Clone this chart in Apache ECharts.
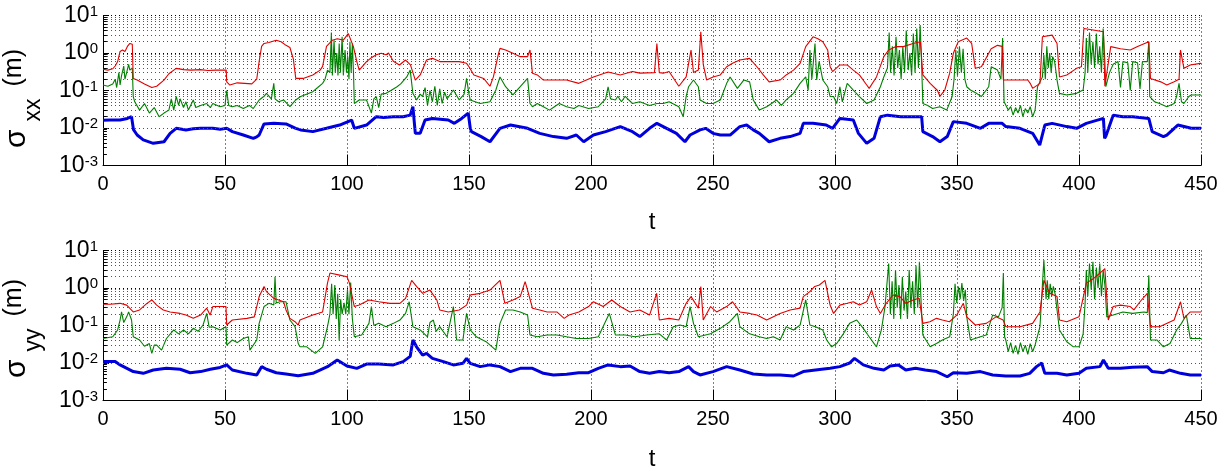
<!DOCTYPE html>
<html><head><meta charset="utf-8">
<script src="https://cdn.jsdelivr.net/npm/echarts@6/dist/echarts.min.js"></script>
<style>html,body{margin:0;padding:0;background:#fff}#c{width:1223px;height:470px}</style>
</head><body><div id="c"></div>
<script>
// ---------- data: [t, value] ----------
const xTickValues = [0, 50, 100, 150, 200, 250, 300, 350, 400, 450];
const yDecades = [0.001, 0.01, 0.1, 1, 10];

const topRed = [[0,0.37],[2,0.35],[4,0.38],[5,0.45],[6,0.59],[7,1.1],[8,1.2],[9,1.1],[10,1.5],[11,1.8],[12,1.7],[12.4,0.21],[14,0.19],[17,0.15],[20,0.12],[22,0.13],[25,0.19],[27,0.28],[30,0.39],[33,0.36],[36,0.35],[40,0.36],[43,0.34],[46,0.35],[50.5,0.35],[50.7,0.17],[52,0.14],[55,0.16],[58,0.155],[61,0.15],[63,0.2],[64,0.6],[65,1.5],[66,1.8],[68,1.9],[70,2.1],[71,2.2],[73,2.0],[75,1.6],[76.6,1.4],[78,0.7],[79,0.21],[82,0.21],[86,0.26],[89,0.35],[90,0.44],[91.6,1.5],[94,2.2],[96,2.4],[98.5,2.2],[100.5,3.3],[102.6,1.5],[104,0.6],[105,0.35],[108,0.59],[110,0.75],[112,0.9],[114,0.98],[116,0.9],[117,1.0],[119,0.6],[121.5,0.48],[124,0.65],[126,0.48],[128,0.19],[130,0.26],[132.6,0.65],[135,0.72],[138,0.59],[141.5,0.59],[146,0.59],[149,0.53],[150,0.43],[152,0.26],[156,0.21],[158.6,0.13],[160,0.23],[162,0.9],[162.7,1.33],[165,1.2],[168,0.98],[171,0.8],[174,0.8],[175,1.2],[176,0.29],[178,0.26],[180.5,0.19],[185,0.19],[190,0.19],[195,0.155],[201,0.23],[207,0.31],[212,0.26],[217,0.32],[220,0.29],[226,0.3],[227,1.8],[228,0.3],[229.6,0.29],[232,0.32],[236,0.13],[239,0.23],[241,1.2],[242,0.3],[244,0.35],[245,3.7],[246,0.5],[247.4,0.19],[250,0.23],[253,0.26],[255.6,0.43],[258,0.53],[261,0.65],[265,0.72],[268,0.43],[270.6,0.26],[273,0.17],[277.5,0.19],[280,0.26],[283,0.35],[285.7,0.53],[288,1.48],[291,2.7],[293,2.4],[295,2.0],[297,1.2],[298,0.43],[299,0.32],[302,0.48],[305,0.48],[307.5,0.35],[310,0.26],[313,0.14],[314,0.114],[317,0.23],[320,0.8],[322,1.2],[325,1.48],[328,1.48],[332,1.8],[335,2.0],[336,0.26],[339,0.155],[342,0.1],[343,0.07],[345,0.103],[347,0.29],[348.5,0.98],[350.5,2.0],[354,2.5],[356,1.8],[357.5,0.39],[360,0.43],[364,1.3],[366.6,1.6],[368.5,1.5],[369,0.19],[373.5,0.19],[379,0.19],[380,0.155],[381,0.114],[384,0.155],[385,2.7],[389,3.0],[391,1.8],[392,0.23],[395,0.26],[399,0.39],[401,0.43],[402,4.5],[405.8,4.1],[410,3.7],[410.6,0.13],[413,1.48],[417,1.3],[421,1.2],[424,1.48],[428.6,2.0],[429.3,0.21],[433.5,0.17],[436,0.14],[439,0.17],[441,0.2],[441.6,1.2],[443,0.39],[445.6,0.48],[449.7,0.53],[450,0.53]];

const topGreen = [[0,0.14],[2,0.13],[4,0.15],[5,0.2],[5.6,0.12],[6.5,0.3],[7,0.14],[7.6,0.25],[8.5,0.45],[9,0.2],[9.7,0.3],[10.5,0.5],[11,0.35],[12,0.4],[12.4,0.069],[13,0.05],[15,0.03],[17,0.045],[19,0.025],[21,0.035],[23,0.02],[25,0.025],[27,0.03],[28,0.06],[29,0.03],[30,0.07],[31,0.04],[31.6,0.06],[33,0.035],[34,0.05],[35,0.03],[37,0.056],[38,0.035],[40,0.04],[42.5,0.045],[44,0.035],[45,0.045],[48,0.037],[50,0.04],[50.7,0.1],[51.5,0.04],[53,0.037],[55,0.04],[57.5,0.033],[60,0.04],[61.6,0.033],[64,0.056],[66,0.07],[67,0.084],[69,0.06],[70,0.155],[70.5,0.06],[72,0.05],[74,0.056],[76.6,0.037],[79,0.056],[81,0.069],[86,0.093],[88,0.12],[90,0.155],[91,0.2],[92,0.35],[93,0.3],[93.6,3.5],[94,0.25],[94.7,2.2],[95.2,0.3],[95.8,1.0],[96.3,0.25],[96.8,1.8],[97.3,0.3],[98,2.7],[98.5,0.25],[99.2,1.2],[99.8,0.3],[100.3,0.8],[100.8,0.2],[101.2,2.0],[101.7,0.3],[102.2,1.8],[102.7,0.25],[103,0.045],[105,0.056],[108,0.056],[110,0.025],[111,0.06],[112,0.069],[113,0.035],[114,0.08],[116,0.084],[118,0.1],[120.5,0.126],[122,0.15],[124.5,0.23],[125.9,0.35],[127,0.084],[128.5,0.056],[130,0.08],[131,0.069],[132,0.12],[133,0.04],[134,0.1],[135,0.05],[136,0.13],[137,0.04],[138,0.11],[139,0.045],[140,0.09],[141,0.06],[143.6,0.103],[146,0.056],[148,0.08],[149,0.21],[150,0.08],[150.5,0.056],[154.6,0.045],[158.6,0.05],[161,0.103],[162.7,0.23],[165,0.126],[168,0.076],[171,0.126],[174,0.21],[175,0.045],[176,0.037],[178,0.045],[180.5,0.037],[183,0.03],[185,0.037],[187,0.045],[190,0.037],[193,0.033],[195,0.04],[199,0.033],[203,0.037],[206,0.06],[207,0.126],[208,0.06],[210,0.056],[211,0.07],[212.5,0.05],[214,0.07],[217,0.045],[220,0.05],[224,0.04],[227,0.045],[229.6,0.045],[232,0.05],[236,0.037],[237.8,0.02],[239,0.07],[240,0.126],[242,0.19],[244,0.126],[244.7,0.056],[247.4,0.045],[250,0.045],[253,0.056],[255.6,0.155],[257,0.23],[260,0.114],[262.6,0.19],[265,0.17],[266.5,0.056],[269,0.03],[272,0.037],[274,0.045],[276,0.056],[278,0.04],[280,0.056],[283,0.084],[285.7,0.155],[288,0.23],[289,0.1],[289.7,1.2],[290.5,0.2],[291.8,1.8],[292.5,0.19],[293.5,0.6],[295,0.19],[297,0.126],[298,0.069],[299.4,0.069],[300.7,0.045],[302,0.126],[303,0.05],[305,0.155],[307.5,0.103],[310,0.069],[313,0.045],[316,0.056],[318.6,0.126],[320,0.23],[321.5,0.4],[322.2,3.5],[322.8,0.3],[323.5,1.5],[324.2,0.25],[325,2.7],[325.7,0.4],[326.4,1.2],[327.1,0.2],[327.8,1.5],[328.5,0.3],[329.2,4.0],[330,0.35],[330.7,1.0],[331.4,0.25],[332.1,3.3],[332.8,0.3],[333.5,4.5],[334.2,0.4],[334.9,5.6],[335.5,0.5],[336,0.045],[338,0.04],[340,0.033],[343,0.037],[345.8,0.03],[348,0.069],[348.8,0.2],[349.5,1.2],[350.2,0.25],[351,1.5],[351.8,0.3],[352.5,1.3],[353.2,0.2],[354,0.126],[355.5,0.103],[358,0.084],[360,0.069],[363,0.126],[364,0.43],[366.6,0.35],[368,0.2],[368.7,2.5],[369.3,0.05],[370,0.045],[371,0.03],[372,0.037],[373,0.022],[374,0.035],[375,0.025],[376,0.04],[377,0.02],[378,0.033],[379,0.025],[380,0.037],[381,0.02],[382,0.03],[383,0.126],[385,0.23],[385.6,0.9],[386.2,0.2],[386.8,1.5],[387.4,0.4],[388,1.0],[388.6,0.3],[389.2,0.8],[390,0.6],[391,0.19],[392,0.084],[395,0.076],[399,0.084],[401.7,0.103],[402.5,0.3],[403,2.5],[403.6,0.3],[404.3,3.5],[405,0.5],[405.7,2.0],[406.4,0.4],[407.1,3.3],[407.8,0.5],[408.5,1.5],[409.2,0.3],[409.9,4.5],[410.6,0.6],[411,0.126],[412.5,0.3],[414,0.5],[416,0.59],[417,0.12],[418,0.59],[420,0.55],[421,0.1],[422,0.59],[424,0.55],[425,0.11],[426,0.59],[428,0.59],[428.6,2.0],[429,0.069],[431,0.05],[433,0.045],[436,0.037],[439,0.045],[440,0.07],[441,0.155],[442,0.05],[443,0.045],[445,0.069],[446,0.076],[450,0.076]];

const topBlue = [[0,0.016],[3,0.0163],[7,0.0163],[10,0.018],[11.7,0.02],[12.2,0.019],[12.5,0.009],[14,0.0065],[16.5,0.0048],[20.6,0.0039],[25,0.0043],[27.5,0.0072],[30,0.0098],[34,0.0089],[37,0.0095],[40,0.0098],[45,0.0098],[48,0.0092],[50.7,0.0098],[53,0.008],[57.5,0.0065],[61.6,0.0053],[63,0.0058],[64,0.0065],[66,0.0128],[70,0.0133],[75,0.0128],[79,0.0098],[81,0.0089],[86,0.008],[91.6,0.0098],[97,0.012],[101.9,0.0163],[103,0.0098],[108,0.012],[112,0.02],[115,0.019],[119,0.02],[123,0.02],[125.9,0.022],[127,0.037],[128,0.0072],[130,0.0072],[132,0.0163],[135,0.018],[141.5,0.0163],[144,0.0133],[147,0.018],[149.7,0.025],[150.5,0.01],[151,0.008],[155,0.0059],[158.6,0.0043],[162.7,0.0098],[167,0.012],[174,0.0098],[179,0.0072],[184.6,0.0059],[190,0.0053],[194,0.0065],[197,0.0043],[201,0.0065],[206,0.008],[212,0.0109],[217,0.008],[220,0.0059],[224,0.0098],[227,0.0133],[231,0.0098],[235,0.0072],[238.5,0.0043],[240.6,0.0065],[244.7,0.0089],[247,0.0098],[250,0.0072],[253,0.0065],[257,0.0065],[261,0.0109],[263.8,0.012],[266.5,0.0089],[269,0.0072],[273,0.0043],[277.5,0.0053],[281.6,0.0059],[285.7,0.0072],[287,0.0133],[291,0.0133],[296.4,0.012],[299,0.0098],[302,0.018],[305,0.017],[307.5,0.0163],[309.6,0.0072],[313,0.0039],[316,0.0053],[318.6,0.02],[321.5,0.022],[327,0.02],[332,0.02],[335.5,0.02],[336,0.008],[340,0.0059],[343,0.0043],[346,0.0059],[348.5,0.0148],[354,0.0133],[359.6,0.0098],[363,0.0133],[368.5,0.0133],[370,0.0109],[375.8,0.0098],[381,0.0072],[383.9,0.0035],[386,0.012],[389,0.0133],[395,0.0109],[399,0.0098],[403,0.0133],[410,0.018],[410.5,0.0053],[411,0.006],[414,0.022],[418,0.02],[422,0.02],[428.6,0.018],[430,0.008],[434.6,0.0059],[436,0.0065],[440.5,0.012],[446,0.0098],[450,0.0098]];

const botRed = [[0,0.37],[3,0.37],[7,0.39],[9.7,0.35],[12.4,0.23],[15,0.26],[18,0.39],[20,0.48],[22,0.35],[24.7,0.26],[27.5,0.23],[31.6,0.21],[34,0.19],[37,0.155],[40,0.19],[42.5,0.29],[43.9,0.19],[45,0.32],[48,0.32],[50.4,0.32],[50.7,0.103],[53,0.14],[59,0.155],[62,0.17],[64,0.59],[66,1.1],[67,0.8],[70,0.53],[74,0.43],[75,0.26],[76.6,0.155],[78.7,0.126],[80,0.103],[80.7,0.14],[86,0.19],[90,0.23],[92,1.35],[93,2.5],[97,2.2],[100,2.0],[101,1.35],[103,0.32],[105,0.35],[109,0.48],[113,0.43],[117.6,0.39],[121.7,0.39],[124,0.53],[126.5,1.6],[128.5,1.1],[131,0.72],[134,0.88],[136.8,0.48],[138,0.26],[141.5,0.23],[146,0.26],[149,0.35],[150.5,0.65],[154.6,0.72],[158.6,0.88],[162.7,1.6],[164.7,0.39],[168,0.48],[171,0.59],[173,1.48],[174,0.88],[176,0.29],[179,0.26],[182,0.23],[186,0.23],[189,0.155],[191,0.19],[195,0.23],[199,0.32],[201,0.43],[205,0.32],[208.5,0.48],[212,0.32],[216,0.23],[220,0.26],[224,0.19],[226.9,0.72],[228,0.14],[232,0.155],[236,0.14],[239,0.39],[241,0.59],[244,0.29],[245,1.1],[246,0.14],[249,0.32],[251.5,0.23],[255.6,0.32],[258,0.43],[261,0.23],[265,0.21],[268,0.19],[272,0.14],[277.5,0.21],[281.6,0.26],[285.7,0.29],[287,0.59],[289.7,0.8],[291.7,1.1],[293.6,1.2],[295.9,1.6],[298,0.35],[299.4,0.21],[302,0.35],[305,0.39],[307.5,0.43],[310,0.35],[313,0.43],[315,0.88],[317,0.32],[318.6,0.21],[321,0.39],[323.8,0.65],[326.6,0.59],[329,0.39],[332,0.48],[334.5,0.53],[336,0.114],[338.9,0.126],[341.6,0.155],[344,0.14],[346.9,0.126],[349.9,0.19],[352.6,0.39],[354,0.17],[357.5,0.103],[362,0.114],[366,0.17],[368.9,0.14],[370,0.093],[375.8,0.093],[381,0.114],[384,0.23],[385.6,1.6],[388,0.72],[391,0.59],[392,0.14],[395,0.126],[400,0.17],[403,1.35],[406,1.8],[408.6,2.5],[410.6,3.3],[412,0.14],[414,0.32],[417,0.35],[421,0.32],[422.5,0.26],[425,0.43],[428,0.72],[429.3,0.093],[433,0.093],[439,0.14],[441.6,0.43],[443,0.155],[445.6,0.23],[450,0.23]];

const botGreen = [[0,0.045],[4,0.05],[6,0.076],[7,0.14],[7.6,0.23],[8.5,0.12],[9.7,0.17],[10.5,0.23],[11.7,0.14],[12.4,0.05],[15,0.041],[17,0.028],[19,0.033],[20,0.018],[21,0.03],[22,0.03],[24,0.022],[26,0.045],[29,0.076],[31,0.06],[33,0.076],[35,0.06],[37,0.084],[39,0.07],[41,0.103],[42.5,0.21],[43.5,0.09],[45,0.093],[48,0.076],[50.4,0.093],[50.7,0.03],[53,0.041],[55,0.035],[57.5,0.045],[59.6,0.05],[60.2,0.022],[63,0.041],[64,0.114],[66,0.32],[68,0.39],[70,0.35],[70.5,2.0],[71,0.4],[72.5,0.43],[75,0.43],[76.6,0.14],[78.7,0.093],[80,0.033],[80.7,0.027],[83.5,0.027],[87,0.018],[90,0.027],[92,0.093],[93,0.2],[93.7,1.3],[94.3,0.2],[95,1.2],[95.6,0.15],[96.2,0.7],[96.8,0.04],[97.4,0.5],[98,0.2],[98.8,0.4],[99.5,0.2],[100.2,0.9],[100.8,0.2],[101.5,1.4],[102.2,0.15],[103,0.05],[106,0.056],[109,0.114],[110,0.32],[111,0.1],[113,0.114],[116,0.093],[119,0.114],[121.7,0.14],[124,0.21],[125.5,0.43],[127,0.093],[130,0.076],[133,0.05],[134,0.12],[135.4,0.14],[136.5,0.07],[138,0.093],[141,0.05],[143.6,0.32],[144.9,0.041],[147.5,0.041],[149,0.21],[150.5,0.076],[153,0.05],[157,0.037],[161,0.022],[162.7,0.114],[165,0.26],[168,0.26],[171,0.23],[174,0.19],[175,0.056],[178,0.05],[182,0.056],[186,0.056],[190,0.05],[194,0.045],[199,0.045],[203,0.05],[207.5,0.21],[210,0.056],[214,0.056],[218,0.05],[222.8,0.056],[228,0.06],[231,0.041],[233.7,0.093],[236.5,0.103],[239,0.093],[240.6,0.32],[242,0.114],[244,0.05],[244.7,0.05],[249,0.06],[253,0.084],[256.9,0.126],[260,0.21],[261,0.093],[265,0.06],[269,0.05],[272,0.045],[274.7,0.05],[277.5,0.041],[280,0.093],[283,0.076],[285.7,0.103],[288,0.48],[289.7,0.103],[292,0.093],[295,0.076],[296.6,0.041],[298.6,0.027],[300.7,0.033],[303.4,0.06],[306,0.114],[308.9,0.14],[311.6,0.084],[314,0.05],[317,0.027],[319,0.076],[320.5,0.32],[322,4.5],[322.7,0.2],[323.4,1.5],[324.1,0.15],[324.8,3.0],[325.5,0.3],[326.2,1.2],[326.9,0.15],[327.6,2.0],[328.3,0.25],[329,0.8],[329.7,0.15],[330.4,3.0],[331.1,0.3],[331.8,1.5],[332.5,0.2],[333.2,4.0],[333.9,0.3],[334.6,5.0],[335.3,0.4],[336,0.056],[339,0.027],[341.6,0.033],[344,0.041],[347,0.05],[348.5,0.2],[349.2,1.3],[349.9,0.4],[350.6,1.1],[351.3,0.5],[352,1.35],[352.7,0.45],[353.4,0.9],[354,0.17],[355.5,0.041],[359.6,0.05],[362,0.056],[364.6,0.19],[367,0.17],[368.5,0.3],[369,2.5],[369.5,0.05],[370,0.041],[371,0.02],[372,0.035],[373,0.018],[374,0.03],[375,0.017],[376,0.035],[377,0.02],[378,0.03],[379,0.017],[380,0.033],[381,0.02],[382,0.03],[384,0.093],[385.6,5.6],[386.5,0.5],[387,1.6],[387.6,0.5],[388.2,1.3],[388.8,0.6],[389.5,1.1],[390.2,0.7],[391,0.72],[392,0.076],[395,0.037],[397.7,0.027],[400,0.027],[401.7,0.06],[402.5,0.4],[403,3.0],[403.6,0.6],[404.3,4.5],[405,0.9],[405.7,5.0],[406.4,0.5],[407.1,3.5],[407.8,1.0],[408.5,4.5],[409.2,0.6],[409.9,3.0],[410.6,1.2],[411.4,0.17],[414,0.19],[418,0.23],[422,0.21],[426.6,0.23],[428,0.22],[428.6,2.2],[429.3,0.041],[432,0.041],[434.6,0.027],[437.3,0.033],[440,0.076],[442,0.114],[444,0.19],[445.6,0.045],[450,0.045]];

const botBlue = [[0,0.0109],[5,0.0109],[7,0.0089],[12.4,0.0059],[16.5,0.0053],[20.6,0.0065],[26,0.0072],[31.6,0.0068],[35.7,0.0055],[40,0.0059],[44,0.0068],[48,0.0076],[50.7,0.0089],[53,0.0065],[59,0.0053],[63,0.0048],[65,0.008],[67,0.0068],[71,0.0055],[75,0.0051],[80,0.0046],[86,0.0053],[92,0.008],[96,0.012],[100,0.0083],[104,0.0072],[108,0.0094],[113,0.0094],[119,0.0089],[123,0.0109],[125.9,0.015],[127,0.041],[128.5,0.027],[131,0.0163],[132.6,0.018],[135,0.0133],[139.5,0.0109],[143.6,0.0089],[147.5,0.0098],[149,0.0133],[150.5,0.0098],[154.6,0.008],[158.6,0.0089],[162.7,0.008],[167,0.0059],[171,0.0072],[176,0.0072],[180.5,0.0053],[184.6,0.0048],[190,0.005],[195,0.0055],[199,0.0055],[203,0.0072],[207,0.0089],[212,0.008],[216,0.0083],[220,0.0059],[224,0.0053],[228,0.0059],[232,0.0055],[236,0.0059],[240,0.008],[242,0.0059],[244.7,0.0048],[250,0.0059],[255.6,0.008],[261,0.0065],[266.5,0.0051],[272,0.0048],[277.5,0.0048],[283,0.0045],[287,0.0059],[292,0.0065],[298,0.0072],[302,0.008],[306,0.01],[308,0.0133],[311.6,0.0089],[316,0.0072],[320,0.0065],[322.6,0.0083],[326,0.0089],[329,0.0065],[333,0.0072],[337,0.0065],[341.6,0.0059],[346,0.0043],[348.5,0.0055],[354,0.0053],[359.6,0.0059],[364.6,0.0048],[370,0.0045],[375.8,0.0045],[379.8,0.0053],[382.6,0.008],[384.7,0.01],[386,0.0053],[391,0.0053],[395,0.0048],[400,0.0053],[403,0.0072],[408.6,0.008],[410,0.012],[412,0.0072],[417,0.0072],[422,0.0077],[428,0.008],[430,0.0059],[434.6,0.0055],[437,0.0065],[441.6,0.0053],[445.6,0.0048],[450,0.0048]];

const panels = [
  { red: topRed, green: topGreen, blue: topBlue, sub: 'xx', tail: 16 },
  { red: botRed, green: botGreen, blue: botBlue, sub: 'yy', tail: 6 }
];
const colors = { red: '#e00000', green: '#008000', blue: '#0000dd' };

// minor log grid values (2..9 x 10^k)
const minorVals = [];
yDecades.slice(0, 4).forEach(d => { for (let m = 2; m <= 9; m++) minorVals.push(+(m * d).toPrecision(3)); });

const FONT = 'Liberation Sans';
const chart = echarts.init(document.getElementById('c'), null, { renderer: 'canvas' });

const grids = [
  { left: 103, right: 22, top: 15.5, height: 150, containLabel: false, outerBoundsMode: 'none' },
  { left: 103, right: 22, top: 250.5, height: 150, containLabel: false, outerBoundsMode: 'none' }
];

const xAxes = panels.map((p, i) => ({
  type: 'value', gridIndex: i, min: 0, max: 450, interval: 50,
  axisLine: { show: true, lineStyle: { color: '#000', width: 1 } },
  axisTick: { show: true, inside: true, length: 11, lineStyle: { color: '#000' } },
  axisLabel: { fontSize: 20, color: '#000', margin: 9, fontFamily: FONT },
  splitLine: { show: true, lineStyle: { color: '#000', type: [1, 3], width: 1 } },
  name: 't', nameLocation: 'middle', nameGap: i === 0 ? 45 : 47,
  nameTextStyle: { fontSize: 24, color: '#000', fontFamily: FONT }
}));

const yAxes = panels.map((p, i) => ({
  type: 'log', logBase: 10, gridIndex: i, min: 0.001, max: 10,
  axisLine: { show: true, lineStyle: { color: '#000', width: 1 } },
  axisTick: { show: true, inside: true, length: 6, lineStyle: { color: '#000' } },
  axisLabel: {
    margin: 5, fontSize: 22, fontFamily: FONT, color: '#000',
    formatter: v => '{b|10}{s|' + Math.round(Math.log10(v)) + '}',
    rich: {
      b: { fontSize: 23, color: '#000', fontFamily: FONT },
      s: { fontSize: 15, color: '#000', fontFamily: FONT, verticalAlign: 'top' }
    }
  },
  splitLine: { show: true, lineStyle: { color: '#000', type: [1, 3], width: 1 } },
  name: '{s|σ}{w1| }{x|' + p.sub + '}{w2| }{m|(m)}{e| }',
  nameLocation: 'middle', nameRotate: 90, nameGap: 58,
  nameTextStyle: {
    color: '#000',
    rich: {
      s: { fontSize: 30, fontFamily: FONT, color: '#000', lineHeight: 34, verticalAlign: 'top' },
      w1: { width: 8, fontSize: 10, lineHeight: 34, verticalAlign: 'top' },
      x: { fontSize: 23, fontFamily: FONT, color: '#000', lineHeight: 22, verticalAlign: 'bottom' },
      w2: { width: 12, fontSize: 10, lineHeight: 43, verticalAlign: 'top' },
      m: { fontSize: 25, fontFamily: FONT, color: '#000', lineHeight: 34, verticalAlign: 'top' },
      e: { width: p.tail, fontSize: 10, lineHeight: 34, verticalAlign: 'top' }
    }
  }
}));

const series = [];
panels.forEach((p, i) => {
  // minor log grid lines
  series.push({
    type: 'line', xAxisIndex: i, yAxisIndex: i, data: [], z: 1, silent: true,
    markLine: {
      silent: true, symbol: ['none', 'none'], label: { show: false }, animation: false,
      lineStyle: { color: '#555', type: [1, 3], width: 1 },
      emphasis: { disabled: true },
      data: minorVals.map(v => ({ yAxis: v }))
    }
  });
  // minor ticks on the left axis
  series.push({
    type: 'line', xAxisIndex: i, yAxisIndex: i, data: [], z: 2, silent: true,
    markLine: {
      silent: true, symbol: ['none', 'none'], label: { show: false }, animation: false,
      lineStyle: { color: '#000', type: 'solid', width: 1 },
      emphasis: { disabled: true },
      data: minorVals.map(v => [{ coord: [0, v] }, { coord: [1.6, v] }])
    }
  });
  [['blue', 3], ['green', 1.1], ['red', 1.1]].forEach(([k, w], j) => {
    series.push({
      type: 'line', xAxisIndex: i, yAxisIndex: i, data: p[k], z: 3 + j,
      showSymbol: false, symbol: 'none', silent: true,
      lineStyle: { color: colors[k], width: w }, itemStyle: { color: colors[k] }
    });
  });
});

chart.setOption({
  animation: false,
  backgroundColor: '#fff',
  grid: grids,
  xAxis: xAxes,
  yAxis: yAxes,
  series: series
});
</script>
</body></html>
